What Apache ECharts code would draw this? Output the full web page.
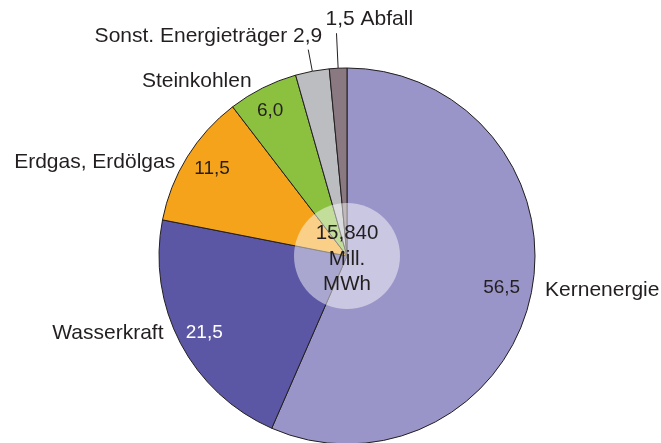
<!DOCTYPE html>
<html>
<head>
<meta charset="utf-8">
<script src="https://cdn.jsdelivr.net/npm/echarts@6/dist/echarts.min.js"></script>
<style>
html,body{margin:0;padding:0;background:#fff;}
#chart{width:661px;height:443px;}
</style>
</head>
<body>
<div id="chart"></div>
<script>
const categories = ['Kernenergie', 'Wasserkraft', 'Erdgas, Erdölgas', 'Steinkohlen', 'Sonst. Energieträger', 'Abfall'];
const shares = [56.5, 21.5, 11.5, 6.0, 2.9, 1.5];
const shareLabels = ['56,5', '21,5', '11,5', '6,0', '2,9', '1,5'];
const totalLabel = ['15,840', 'Mill.', 'MWh'];

const colors = ['#9a95c8', '#5b57a5', '#f6a31c', '#8cc03f', '#bbbdc0', '#8a7980'];
const valueTextColors = ['#231f20', '#ffffff', '#231f20', '#231f20', '#231f20', '#231f20'];
const FONT = 'Liberation Sans, Arial, Helvetica, sans-serif';
const TXT = '#231f20';
const CENTER = [347, 256];
const R = 188;

function nameText(i) {
  if (i === 4) return categories[i] + ' ' + shareLabels[i];
  if (i === 5) return shareLabels[i] + ' ' + categories[i];
  return categories[i];
}
const nameAdjust = [
  { dx: 0, dy: -4 },
  { dx: -3, dy: -10 },
  { dx: 2, dy: 5 },
  { dx: 3, dy: -7 },
  { dx: 19, dy: -13 },
  { dx: -6, dy: -14, align: 'left' }
];
const valueAdjust = [
  { dx: -2, dy: -1 },
  { dx: -1, dy: 2 },
  { dx: 1, dy: -3 },
  { dx: -5, dy: -2 },
  { dx: 0, dy: 0 },
  { dx: 0, dy: 0 }
];

const mainData = categories.map((c, i) => ({
  name: c,
  value: shares[i],
  itemStyle: { color: colors[i] },
  label: { formatter: nameText(i) },
  labelLine: i >= 4 ? { show: true, length: i === 4 ? 22 : 35, length2: 0 } : { show: false, length: 0, length2: 9 }
}));

const valueData = categories.map((c, i) => ({
  name: c,
  value: shares[i],
  label: { show: i < 4, formatter: shareLabels[i], color: valueTextColors[i] }
}));

const chart = echarts.init(document.getElementById('chart'), null, { renderer: 'canvas' });
chart.setOption({
  animation: false,
  backgroundColor: '#ffffff',
  series: [
    {
      type: 'pie',
      center: CENTER,
      radius: R,
      startAngle: 90,
      clockwise: true,
      avoidLabelOverlap: false,
      silent: true,
      itemStyle: { borderColor: TXT, borderWidth: 1 },
      label: {
        show: true,
        position: 'outside',
        fontFamily: FONT,
        fontSize: 21,
        color: TXT,
        distanceToLabelLine: 5
      },
      labelLine: { lineStyle: { color: TXT, width: 1 } },
      labelLayout: function (p) {
        const a = nameAdjust[p.dataIndex];
        const out = { dx: a.dx, dy: a.dy };
        if (a.align) out.align = a.align;
        if (p.labelLinePoints) out.labelLinePoints = p.labelLinePoints;
        return out;
      },
      data: mainData
    },
    {
      type: 'pie',
      center: CENTER,
      radius: [126, R],
      startAngle: 90,
      clockwise: true,
      silent: true,
      avoidLabelOverlap: false,
      itemStyle: { color: 'rgba(0,0,0,0)', borderWidth: 0 },
      label: {
        position: 'inside',
        fontFamily: FONT,
        fontSize: 19
      },
      labelLine: { show: false },
      labelLayout: function (p) {
        const a = valueAdjust[p.dataIndex];
        return { dx: a.dx, dy: a.dy };
      },
      data: valueData
    },
    {
      type: 'pie',
      center: CENTER,
      radius: 53,
      silent: true,
      itemStyle: { color: 'rgba(255,255,255,0.48)', borderWidth: 0 },
      label: {
        show: true,
        position: 'center',
        formatter: totalLabel.join('\n'),
        fontFamily: FONT,
        fontSize: 20.5,
        lineHeight: 25.5,
        color: TXT
      },
      labelLayout: function () {
        return { dy: 3 };
      },
      labelLine: { show: false },
      data: [{ name: 'Gesamt', value: 1 }]
    }
  ]
});
</script>
</body>
</html>
